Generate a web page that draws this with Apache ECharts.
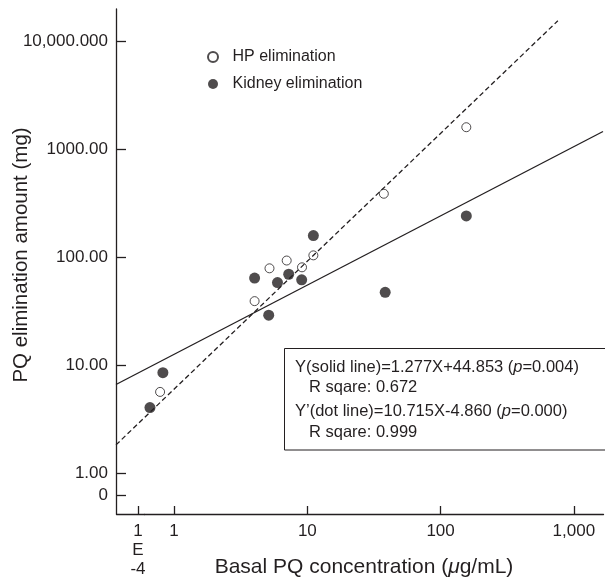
<!DOCTYPE html>
<html lang="en">
  <head>
    <meta charset="UTF-8" />
    <title>PQ elimination</title>
    <script src="https://cdn.jsdelivr.net/npm/echarts@6.0.0/dist/echarts.min.js"></script>
    <style>
      html, body { margin: 0; padding: 0; background: #fff; }
    </style>
  </head>

  <body>
    <div id="main" style="width: 605px; height: 584px"></div>
    <script type="text/javascript">
      // basal PQ concentration (ug/mL) vs PQ elimination amount (mg)
      const hpX = [0.785, 4.02, 5.2, 7.0, 9.12, 11.1, 37.5, 156];
      const hpY = [5.63, 39.0, 78.5, 92.7, 80.2, 103.5, 385, 1590];
      const kidneyX = [0.824, 0.659, 4.02, 5.13, 5.97, 7.25, 9.07, 11.1, 38.4, 156];
      const kidneyY = [8.49, 4.03, 63.7, 28.9, 58.0, 69.2, 61.4, 158, 47.1, 240];

      const xMin = 6.84e-5;
      const xMax = 1656;
      // regression lines, values read at the ends of the drawn lines
      const solidX = [xMin, xMax];
      const solidY = [6.6, 1450];
      const dashX = [xMin, 759];
      const dashY = [1.82, 15380];

      const xTicks = [1e-4, 1, 10, 100, 1000];
      const xTickLabels = ["1\nE\n-4", "1", "10", "100", "1,000"];
      const yTicks = [0.62, 1, 10, 100, 1000, 10000];
      const yTickLabels = ["0", "1.00", "10.00", "100.00", "1000.00", "10,000.000"];

      const ink = "#231f20";
      const font = "Liberation Sans";

      function pick(ticks, labels) {
        return function (v) {
          for (let i = 0; i < ticks.length; i++) {
            if (Math.abs(Math.log10(ticks[i]) - Math.log10(v)) < 0.01) return labels[i];
          }
          return "";
        };
      }
      const zip = (xs, ys) => xs.map((x, i) => [x, ys[i]]);

      let options = {
        animation: false,
        textStyle: { fontFamily: font, color: ink },
        grid: { left: 116, right: 2, top: 9, bottom: 70, outerBoundsMode: "none" },
        legend: {
          orient: "vertical",
          left: 207,
          top: 49,
          padding: 0,
          itemGap: 11,
          itemWidth: 29,
          itemHeight: 10,
          textStyle: { fontSize: 16, color: ink, fontFamily: font },
          data: [
            { name: "HP elimination", icon: "circle" },
            { name: "Kidney elimination", icon: "circle" },
          ],
        },
        xAxis: {
          type: "log",
          min: xMin,
          max: xMax,
          // the axis jumps from 1E-4 straight to the data range
          breaks: [{ start: 1.12e-4, end: 0.6, gap: 0 }],
          breakArea: { show: false },
          name: "Basal PQ concentration ({i|μ}g/mL)",
          nameLocation: "middle",
          nameGap: 43,
          nameMoveOverlap: false,
          nameTextStyle: {
            fontSize: 21,
            color: ink,
            fontFamily: font,
            padding: [0, 0, 0, 9],
            rich: { i: { fontSize: 21, fontStyle: "italic", fontFamily: font, color: ink } },
          },
          axisLine: { lineStyle: { color: ink, width: 1.3 } },
          axisTick: { inside: true, length: 8, customValues: xTicks, lineStyle: { color: ink, width: 1.3 } },
          axisLabel: {
            customValues: xTicks,
            formatter: pick(xTicks, xTickLabels),
            fontSize: 17,
            lineHeight: 19,
            margin: 8,
            hideOverlap: false,
            color: ink,
            fontFamily: font,
          },
          splitLine: { show: false },
        },
        yAxis: {
          type: "log",
          min: 0.417,
          max: 19770,
          name: "PQ elimination amount (mg)",
          nameLocation: "middle",
          nameGap: 84,
          nameMoveOverlap: false,
          nameTextStyle: { fontSize: 20.5, color: ink, fontFamily: font, padding: [0, 0, 0, 13] },
          axisLine: { lineStyle: { color: ink, width: 1.3 } },
          axisTick: { inside: true, length: 10, customValues: yTicks, lineStyle: { color: ink, width: 1.3 } },
          axisLabel: {
            customValues: yTicks,
            formatter: pick(yTicks, yTickLabels),
            fontSize: 17,
            margin: 8,
            hideOverlap: false,
            color: ink,
            fontFamily: font,
          },
          splitLine: { show: false },
        },
        series: [
          {
            name: "solid line",
            type: "line",
            data: zip(solidX, solidY),
            symbol: "none",
            silent: true,
            lineStyle: { color: ink, width: 1.3 },
            z: 1,
          },
          {
            name: "dot line",
            type: "line",
            data: zip(dashX, dashY),
            symbol: "none",
            silent: true,
            lineStyle: { color: ink, width: 1.3, type: [5, 3] },
            z: 1,
          },
          {
            name: "HP elimination",
            type: "scatter",
            data: zip(hpX, hpY),
            symbol: "circle",
            symbolSize: 9,
            itemStyle: { color: "rgba(255,255,255,0)", borderColor: ink, borderWidth: 1 },
            z: 3,
          },
          {
            name: "Kidney elimination",
            type: "scatter",
            data: zip(kidneyX, kidneyY),
            symbol: "circle",
            symbolSize: 11,
            itemStyle: { color: ink },
            z: 2,
          },
        ],
        graphic: [
          {
            type: "rect",
            shape: { x: 284.5, y: 348.5, width: 322, height: 101.5 },
            style: { fill: "#fff", stroke: ink, lineWidth: 1 },
            z: 10,
          },
          {
            type: "text",
            x: 295,
            y: 367,
            z: 11,
            style: {
              text: "Y(solid line)=1.277X+44.853 ({i|p}=0.004)",
              font: "16.5px " + font,
              fill: ink,
              verticalAlign: "middle",
              rich: { i: { fontStyle: "italic", fontSize: 16.5, fontFamily: font } },
            },
          },
          {
            type: "text",
            x: 309,
            y: 387,
            z: 11,
            style: { text: "R sqare: 0.672", font: "16.5px " + font, fill: ink, verticalAlign: "middle" },
          },
          {
            type: "text",
            x: 295,
            y: 411,
            z: 11,
            style: {
              text: "Y’(dot line)=10.715X-4.860 ({i|p}=0.000)",
              font: "16.5px " + font,
              fill: ink,
              verticalAlign: "middle",
              rich: { i: { fontStyle: "italic", fontSize: 16.5, fontFamily: font } },
            },
          },
          {
            type: "text",
            x: 309,
            y: 432,
            z: 11,
            style: { text: "R sqare: 0.999", font: "16.5px " + font, fill: ink, verticalAlign: "middle" },
          },
        ],
      };

      let myChart = echarts.init(document.getElementById("main"));
      myChart.setOption(options);
    </script>
  </body>
</html>
